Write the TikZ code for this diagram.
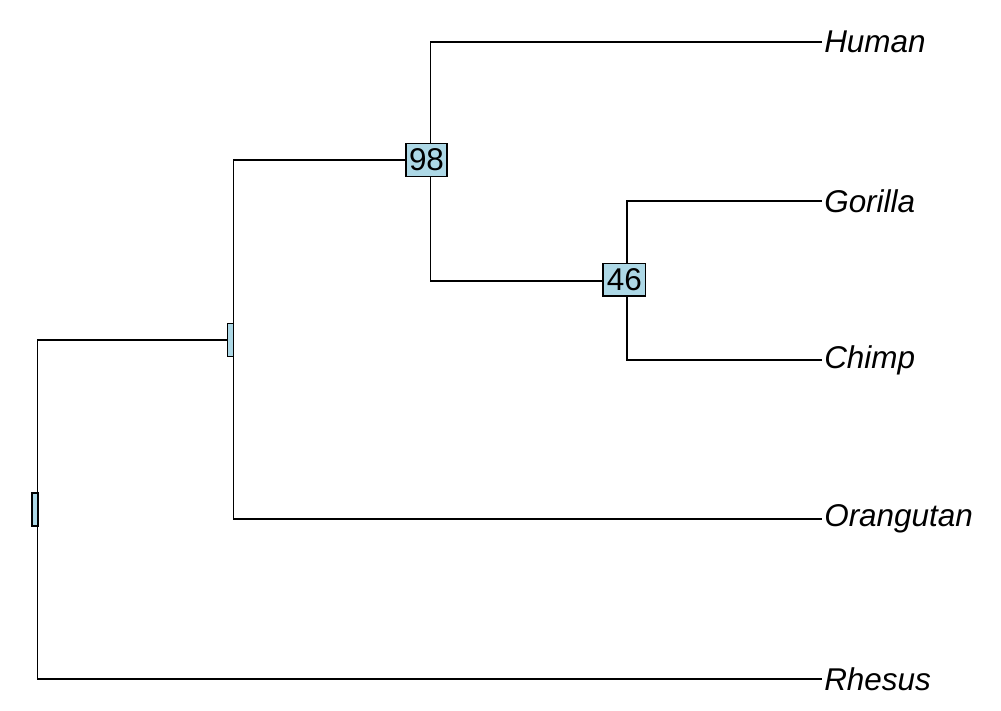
\documentclass[tikz,border=0pt]{standalone}
\usepackage{fontspec}
\setmainfont{Liberation Sans}
\begin{document}
\begin{tikzpicture}[x=0.75pt,y=-0.75pt,
  edge/.style={draw=black,line width=1.4pt,line join=miter},
  tiplabel/.style={anchor=west,inner sep=1.5pt,font=\fontsize{23.6pt}{28pt}\selectfont\itshape},
  support/.style={draw=black,line width=1.2pt,fill=lightblue,inner sep=0pt,
    minimum height=24.5pt,font=\fontsize{23.6pt}{28pt}\selectfont},
  supportempty/.style={support,minimum width=4.5pt}]
\definecolor{lightblue}{HTML}{ADD8E6}
\useasboundingbox (0,0) rectangle (1001,711);
% internal nodes of the tree
\coordinate (root) at (37.5,509.5);
\coordinate (n2) at (233.5,340);
\coordinate (n98) at (430.5,160);
\coordinate (n46) at (627,281);
% leaves
\node[tiplabel] (human) at (822,42) {Human};
\node[tiplabel] (gorilla) at (822,201) {Gorilla};
\node[tiplabel] (chimp) at (822,360) {Chimp};
\node[tiplabel] (orang) at (822,519) {Orangutan};
\node[tiplabel] (rhesus) at (822,679) {Rhesus};
% branches
\draw[edge] (root) |- (n2);
\draw[edge] (root) |- (rhesus.west);
\draw[edge] (n2) |- (n98);
\draw[edge] (n2) |- (orang.west);
\draw[edge] (n98) |- (human.west);
\draw[edge] (n98) |- (n46);
\draw[edge] (n46) |- (gorilla.west);
\draw[edge] (n46) |- (chimp.west);
% bootstrap support boxes
\node[supportempty] (broot) at ([xshift=-2pt]root) {};
\node[supportempty] (bn2) at ([xshift=-2.2pt]n2) {};
\node[support,minimum width=31pt] (b98) at ([xshift=-3pt]n98) {98};
\node[support,minimum width=32pt] (b46) at ([xshift=-2pt,yshift=0.9pt]n46) {46};
\end{tikzpicture}
\end{document}
